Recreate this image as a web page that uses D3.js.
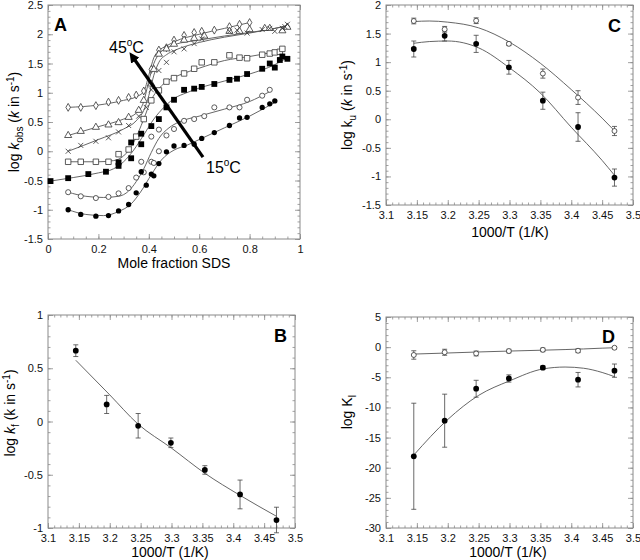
<!DOCTYPE html>
<html><head><meta charset="utf-8">
<script src="https://cdn.jsdelivr.net/npm/d3@7"></script>
<style>
body{margin:0;background:#fff;}
svg{display:block;font-family:"Liberation Sans",Arial,Helvetica,sans-serif;}
</style></head>
<body><svg id="c" width="640" height="560"></svg>
<script>
// ---------- Panel A data (mole fraction SDS vs log k_obs) ----------
const a15x=[0.08,0.13,0.19,0.24,0.28,0.32,0.35,0.37,0.39,0.41,0.42,0.44,0.47,0.5,0.54,0.58,0.61,0.66,0.72,0.76,0.79,0.85,0.88,0.9];
const a15y=[-1.0,-1.08,-1.11,-1.1,-1.02,-0.91,-0.71,-0.35,-0.58,-0.39,-0.42,-0.21,-0.01,0.09,0.1,0.12,0.22,0.32,0.44,0.57,0.58,0.75,0.81,0.86];
const a20x=[0.08,0.13,0.19,0.24,0.28,0.32,0.35,0.37,0.38,0.41,0.41,0.42,0.44,0.44,0.47,0.5,0.54,0.58,0.62,0.66,0.72,0.76,0.79,0.85,0.88];
const a20y=[-0.7,-0.77,-0.8,-0.78,-0.72,-0.63,-0.45,-0.18,-0.36,-0.18,0.25,-0.2,0.0,0.37,0.27,0.38,0.52,0.55,0.6,0.75,0.75,0.75,0.88,0.95,1.05];
const a25x=[0.01,0.08,0.16,0.23,0.28,0.28,0.33,0.33,0.37,0.37,0.41,0.44,0.47,0.5,0.54,0.58,0.61,0.66,0.72,0.75,0.79,0.85,0.88,0.9,0.92,0.93,0.95];
const a25y=[-0.51,-0.46,-0.39,-0.35,-0.25,-0.19,0.15,-0.12,0.3,0.12,0.43,0.55,0.75,0.88,1.05,1.07,1.1,1.15,1.22,1.24,1.32,1.41,1.5,1.43,1.56,1.62,1.58];
const a30x=[0.08,0.13,0.19,0.24,0.28,0.32,0.35,0.38,0.41,0.44,0.47,0.5,0.54,0.58,0.61,0.66,0.72,0.76,0.79,0.85,0.88,0.9,0.92,0.93];
const a30y=[-0.18,-0.18,-0.18,-0.18,-0.05,0.03,0.25,0.55,0.87,1.04,1.19,1.25,1.33,1.41,1.52,1.52,1.64,1.6,1.59,1.65,1.67,1.69,1.7,1.75];
const a35x=[0.08,0.13,0.19,0.24,0.28,0.32,0.36,0.39,0.41,0.44,0.47,0.5,0.54,0.58,0.61,0.72,0.75,0.79,0.85,0.88,0.9,0.93,0.94,0.95];
const a35y=[0.0,0.1,0.17,0.23,0.33,0.44,0.6,0.75,1.05,1.38,1.52,1.7,1.75,1.84,1.92,2.05,2.07,2.02,2.08,2.1,2.05,2.1,2.13,2.17];
const a40x=[0.08,0.13,0.19,0.24,0.28,0.32,0.36,0.38,0.41,0.42,0.44,0.47,0.5,0.54,0.58,0.62,0.72,0.76,0.8,0.86,0.88,0.93,0.95];
const a40y=[0.27,0.34,0.41,0.45,0.49,0.58,0.7,0.87,1.15,1.4,1.66,1.75,1.83,1.9,1.93,1.97,2.05,2.05,2.08,2.1,2.1,2.06,2.12];
const a45x=[0.08,0.13,0.19,0.24,0.28,0.32,0.35,0.38,0.41,0.44,0.47,0.5,0.54,0.58,0.61,0.66,0.72,0.76,0.8];
const a45y=[0.75,0.75,0.78,0.84,0.87,0.92,0.96,1.03,1.4,1.73,1.77,1.9,1.98,2.03,2.05,2.07,2.13,2.17,2.2];
// fitted curves (panel A)
const f15x=[0.08,0.15,0.22,0.28,0.33,0.37,0.41,0.45,0.5,0.55,0.6,0.7,0.8,0.91];
const f15y=[-1.0,-1.08,-1.1,-1.03,-0.9,-0.68,-0.4,-0.15,0.02,0.1,0.2,0.4,0.6,0.86];
const f20x=[0.08,0.15,0.22,0.28,0.32,0.35,0.38,0.41,0.44,0.48,0.52,0.6,0.7,0.8,0.88];
const f20y=[-0.7,-0.77,-0.79,-0.77,-0.68,-0.52,-0.3,-0.02,0.22,0.4,0.5,0.6,0.72,0.85,1.02];
const f25x=[0.01,0.1,0.2,0.26,0.3,0.34,0.38,0.42,0.46,0.5,0.55,0.6,0.7,0.8,0.9,0.95];
const f25y=[-0.51,-0.45,-0.37,-0.3,-0.18,0.02,0.28,0.55,0.75,0.9,1.0,1.08,1.2,1.32,1.48,1.6];
const f30x=[0.08,0.2,0.26,0.3,0.34,0.38,0.41,0.44,0.48,0.52,0.6,0.7,0.8,0.9,0.93];
const f30y=[-0.18,-0.18,-0.16,-0.08,0.15,0.55,0.88,1.07,1.22,1.3,1.42,1.55,1.62,1.7,1.73];
const f35x=[0.08,0.2,0.3,0.35,0.38,0.4,0.42,0.44,0.47,0.5,0.55,0.6,0.7,0.8,0.9,0.95];
const f35y=[0.0,0.2,0.38,0.52,0.7,0.95,1.3,1.52,1.65,1.72,1.8,1.86,1.95,2.02,2.1,2.14];
const f40x=[0.08,0.2,0.3,0.35,0.38,0.4,0.42,0.44,0.47,0.5,0.6,0.7,0.8,0.9,0.95];
const f40y=[0.27,0.42,0.55,0.65,0.85,1.2,1.5,1.66,1.76,1.82,1.9,1.97,2.03,2.1,2.15];
const f45x=[0.08,0.2,0.3,0.35,0.38,0.4,0.42,0.44,0.47,0.5,0.6,0.7,0.8];
const f45y=[0.75,0.79,0.87,0.93,1.02,1.3,1.6,1.72,1.8,1.87,2.0,2.1,2.2];
// ---------- Panels B, C, D (1000/T) ----------
const invT=[3.145,3.195,3.246,3.299,3.354,3.411,3.47];
const bKf=[0.665,0.16,-0.04,-0.2,-0.455,-0.685,-0.925];
const bKfErr=[0.055,0.085,0.115,0.045,0.04,0.135,0.12];
const bFitX=[3.145,3.2,3.245,3.3,3.355,3.41,3.47];
const bFitY=[0.575,0.25,-0.02,-0.25,-0.49,-0.69,-0.89];
const cOpen=[1.72,1.575,1.725,1.32,0.8,0.38,-0.205];
const cOpenErr=[0.05,0.05,0.05,0.03,0.08,0.12,0.08];
const cFilled=[1.23,1.46,1.32,0.91,0.325,-0.135,-1.02];
const cFilledErr=[0.14,0.09,0.15,0.12,0.15,0.25,0.15];
const cFitX=[3.145,3.17,3.2,3.25,3.3,3.35,3.4,3.45,3.47];
const cFitOpen=[1.71,1.72,1.7,1.6,1.35,0.98,0.52,0.02,-0.2];
const cFitFilled=[1.33,1.36,1.37,1.25,0.9,0.46,-0.14,-0.72,-0.98];
const dOpen=[-1.3,-0.85,-1.05,-0.65,-0.45,-0.6,-0.1];
const dOpenErr=[0.7,0.5,0.4,0.3,0.3,0.3,0.2];
const dFilled=[-18.1,-12.2,-6.9,-5.2,-3.4,-5.4,-3.9];
const dFilledErr=[8.8,4.4,1.4,0.6,0.3,1.2,1.1];
const dFitX=[3.145,3.2,3.25,3.3,3.355,3.39,3.42,3.45,3.47];
const dFitOpen=[-1.15,-0.97,-0.8,-0.65,-0.5,-0.4,-0.3,-0.17,-0.1];
const dFitFilled=[-17.9,-12.0,-8.0,-5.6,-3.6,-3.3,-3.5,-4.2,-4.9];
const ticksA={x:[0,0.2,0.4,0.6,0.8,1],y:[-1.5,-1,-0.5,0,0.5,1,1.5,2,2.5]};
const ticksT=[3.1,3.15,3.2,3.25,3.3,3.35,3.4,3.45,3.5];

const svg=d3.select("#c");
svg.append("rect").attr("width",640).attr("height",560).attr("fill","#fff");
const frameCol="#8a8a8a", lineCol="#555";

function fmt(v){return String(+v.toFixed(2));}
function range(a,b,s){const n=Math.round((b-a)/s);return d3.range(n+1).map(i=>+(a+i*s).toFixed(4));}

function panel(o){
  const x=d3.scaleLinear().domain(o.xd).range([o.l,o.r]);
  const y=d3.scaleLinear().domain(o.yd).range([o.b,o.t]);
  const g=svg.append("g");
  const xMin=range(o.xd[0],o.xd[1],o.xm), yMin=range(o.yd[0],o.yd[1],o.ym);
  const mk=(ax,vals,size,showLab)=>ax.tickValues(vals).tickSize(-size).tickPadding(showLab?5:0).tickFormat(showLab?fmt:"");
  const add=(axis,tr)=>{
    const gg=g.append("g").attr("transform",tr).call(axis);
    gg.select(".domain").remove();
    gg.selectAll("line").attr("stroke",frameCol).attr("stroke-width",0.8);
    gg.selectAll("text").attr("fill","#111").style("font-size","11px").style("font-family","'Liberation Sans',Arial,sans-serif");
    return gg;
  };
  add(mk(d3.axisBottom(x),xMin,2.5,false),`translate(0,${o.b})`);
  add(mk(d3.axisTop(x),xMin,2.5,false),`translate(0,${o.t})`);
  add(mk(d3.axisLeft(y),yMin,2.5,false),`translate(${o.l},0)`);
  add(mk(d3.axisRight(y),yMin,2.5,false),`translate(${o.r},0)`);
  const bx=add(mk(d3.axisBottom(x),o.xt,5,true),`translate(0,${o.b})`);
  bx.selectAll("text").attr("dy","0.85em");
  add(mk(d3.axisTop(x),o.xt,5,false),`translate(0,${o.t})`);
  add(mk(d3.axisLeft(y),o.yt,5,true),`translate(${o.l},0)`);
  add(mk(d3.axisRight(y),o.yt,5,false),`translate(${o.r},0)`);
  g.append("rect").attr("x",o.l).attr("y",o.t).attr("width",o.r-o.l).attr("height",o.b-o.t)
    .attr("fill","none").attr("stroke",frameCol).attr("stroke-width",1);
  return {x,y,g};
}

function curve(p,xs,ys){
  p.g.append("path").datum(xs.map((v,i)=>[v,ys[i]]))
    .attr("d",d3.line().x(d=>p.x(d[0])).y(d=>p.y(d[1])).curve(d3.curveMonotoneX))
    .attr("fill","none").attr("stroke",lineCol).attr("stroke-width",0.9);
}
const xPath=s=>`M${-s},${-s}L${s},${s}M${-s},${s}L${s},${-s}`;
function markers(p,xs,ys,type,k){
  k=k||1;
  const d=xs.map((v,i)=>[v,ys[i]]);
  const sel=p.g.append("g").selectAll("path").data(d).join("path")
    .attr("transform",e=>`translate(${p.x(e[0])},${p.y(e[1])})`);
  if(type==="fc") sel.attr("d",d3.symbol(d3.symbolCircle,26*k)()).attr("fill","#000");
  if(type==="oc") sel.attr("d",d3.symbol(d3.symbolCircle,24*k)()).attr("fill","#fff").attr("stroke","#333").attr("stroke-width",0.8);
  if(type==="fs") sel.attr("d",d3.symbol(d3.symbolSquare,34*k)()).attr("fill","#000");
  if(type==="os") sel.attr("d",d3.symbol(d3.symbolSquare,30*k)()).attr("fill","#fff").attr("stroke","#333").attr("stroke-width",0.8);
  if(type==="x") sel.attr("d",xPath(2.5)).attr("fill","none").attr("stroke","#333").attr("stroke-width",0.8);
  if(type==="tri") sel.attr("d",d3.symbol(d3.symbolTriangle,22*k)()).attr("fill","#fff").attr("stroke","#333").attr("stroke-width",0.8);
  if(type==="dia") sel.attr("d",d3.symbol(d3.symbolDiamond,18*k)()).attr("fill","#fff").attr("stroke","#333").attr("stroke-width",0.8);
}
function errbars(p,xs,ys,es){
  const d=xs.map((v,i)=>[v,ys[i],es[i]]);
  const g=p.g.append("g").attr("stroke","#444").attr("stroke-width",0.8);
  d.forEach(e=>{
    const cx=p.x(e[0]),t=p.y(e[1]+e[2]),b=p.y(e[1]-e[2]);
    g.append("line").attr("x1",cx).attr("x2",cx).attr("y1",t).attr("y2",b);
    g.append("line").attr("x1",cx-2.5).attr("x2",cx+2.5).attr("y1",t).attr("y2",t);
    g.append("line").attr("x1",cx-2.5).attr("x2",cx+2.5).attr("y1",b).attr("y2",b);
  });
}
function label(txt,x,y){
  svg.append("text").attr("x",x).attr("y",y).text(txt).style("font-size","18px").style("font-weight","bold");
}

// ---------------- Panel A ----------------
const A=panel({l:48,r:300,t:5,b:239,xd:[0,1],yd:[-1.5,2.5],xt:ticksA.x,yt:ticksA.y,xm:0.05,ym:0.1});
[[f15x,f15y],[f20x,f20y],[f25x,f25y],[f30x,f30y],[f35x,f35y],[f40x,f40y],[f45x,f45y]].forEach(c=>curve(A,c[0],c[1]));
markers(A,a45x,a45y,"dia");
markers(A,a40x,a40y,"tri");
markers(A,a35x,a35y,"x");
markers(A,a30x,a30y,"os");
markers(A,a25x,a25y,"fs");
markers(A,a20x,a20y,"oc",0.85);
markers(A,a15x,a15y,"fc",0.85);
label("A",54,31);
// arrow 15C -> 45C
const arrowFrom=[0.615,-0.1], arrowTo=[0.335,1.62];
svg.append("defs").append("marker").attr("id","ah").attr("viewBox","0 0 10 10").attr("refX",5).attr("refY",5)
  .attr("markerWidth",3.2).attr("markerHeight",3.2).attr("orient","auto")
  .append("path").attr("d","M0,0L10,5L0,10z").attr("fill","#000");
A.g.append("line").attr("x1",A.x(arrowFrom[0])).attr("y1",A.y(arrowFrom[1]))
  .attr("x2",A.x(arrowTo[0])).attr("y2",A.y(arrowTo[1]))
  .attr("stroke","#000").attr("stroke-width",3.2).attr("marker-end","url(#ah)");
function degLabel(t,x,y){
  const tx=svg.append("text").attr("x",x).attr("y",y).style("font-size","16px");
  tx.append("tspan").text(t);
  tx.append("tspan").attr("dy",-7).style("font-size","10px").text("o");
  tx.append("tspan").attr("dy",7).text("C");
}
degLabel("45",109,53);
degLabel("15",206,173);
// axis titles A
{
  const t=svg.append("text").attr("transform","translate(19,122) rotate(-90)").attr("text-anchor","middle").style("font-size","14px");
  t.append("tspan").text("log ");
  t.append("tspan").style("font-style","italic").text("k");
  t.append("tspan").attr("dy",4).style("font-size","10px").text("obs");
  t.append("tspan").attr("dy",-4).text(" (");
  t.append("tspan").style("font-style","italic").text("k");
  t.append("tspan").text(" in s");
  t.append("tspan").attr("dy",-5).style("font-size","10px").text("-1");
  t.append("tspan").attr("dy",5).text(")");
  svg.append("text").attr("x",174).attr("y",268).attr("text-anchor","middle").style("font-size","14px").text("Mole fraction SDS");
}

// ---------------- Panel C ----------------
const C=panel({l:386,r:633,t:5,b:205,xd:[3.1,3.5],yd:[-1.5,2],xt:ticksT,yt:range(-1.5,2,0.5),xm:0.01,ym:0.1});
curve(C,cFitX,cFitOpen); curve(C,cFitX,cFitFilled);
errbars(C,invT,cOpen,cOpenErr); errbars(C,invT,cFilled,cFilledErr);
markers(C,invT,cOpen,"oc",0.8); markers(C,invT,cFilled,"fc");
label("C",608,32);
{
  const t=svg.append("text").attr("transform","translate(352,105) rotate(-90)").attr("text-anchor","middle").style("font-size","14px");
  t.append("tspan").text("log k");
  t.append("tspan").attr("dy",4).style("font-size","10px").text("u");
  t.append("tspan").attr("dy",-4).text(" (");
  t.append("tspan").style("font-style","italic").text("k");
  t.append("tspan").text(" in s");
  t.append("tspan").attr("dy",-5).style("font-size","10px").text("-1");
  t.append("tspan").attr("dy",5).text(")");
  svg.append("text").attr("x",510).attr("y",237).attr("text-anchor","middle").style("font-size","14px").text("1000/T (1/K)");
}

// ---------------- Panel B ----------------
const B=panel({l:48,r:295,t:315,b:528,xd:[3.1,3.5],yd:[-1,1],xt:ticksT,yt:range(-1,1,0.5),xm:0.01,ym:0.1});
curve(B,bFitX,bFitY);
errbars(B,invT,bKf,bKfErr);
markers(B,invT,bKf,"fc");
label("B",274,342);
{
  const t=svg.append("text").attr("transform","translate(15,413) rotate(-90)").attr("text-anchor","middle").style("font-size","14px");
  t.append("tspan").text("log ");
  t.append("tspan").style("font-style","italic").text("k");
  t.append("tspan").attr("dy",4).style("font-size","10px").text("f");
  t.append("tspan").attr("dy",-4).text(" (k in s");
  t.append("tspan").attr("dy",-5).style("font-size","10px").text("-1");
  t.append("tspan").attr("dy",5).text(")");
  svg.append("text").attr("x",170).attr("y",557).attr("text-anchor","middle").style("font-size","14px").text("1000/T (1/K)");
}

// ---------------- Panel D ----------------
const D=panel({l:386,r:633,t:317,b:528,xd:[3.1,3.5],yd:[-30,5],xt:ticksT,yt:range(-30,5,5),xm:0.01,ym:1});
curve(D,dFitX,dFitOpen); curve(D,dFitX,dFitFilled);
errbars(D,invT,dOpen,dOpenErr); errbars(D,invT,dFilled,dFilledErr);
markers(D,invT,dOpen,"oc",0.8); markers(D,invT,dFilled,"fc");
label("D",602,343);
{
  const t=svg.append("text").attr("transform","translate(352,412) rotate(-90)").attr("text-anchor","middle").style("font-size","14px");
  t.append("tspan").text("log K");
  t.append("tspan").attr("dy",4).style("font-size","10px").text("I");
  svg.append("text").attr("x",508).attr("y",557).attr("text-anchor","middle").style("font-size","14px").text("1000/T (1/K)");
}
</script></body></html>
